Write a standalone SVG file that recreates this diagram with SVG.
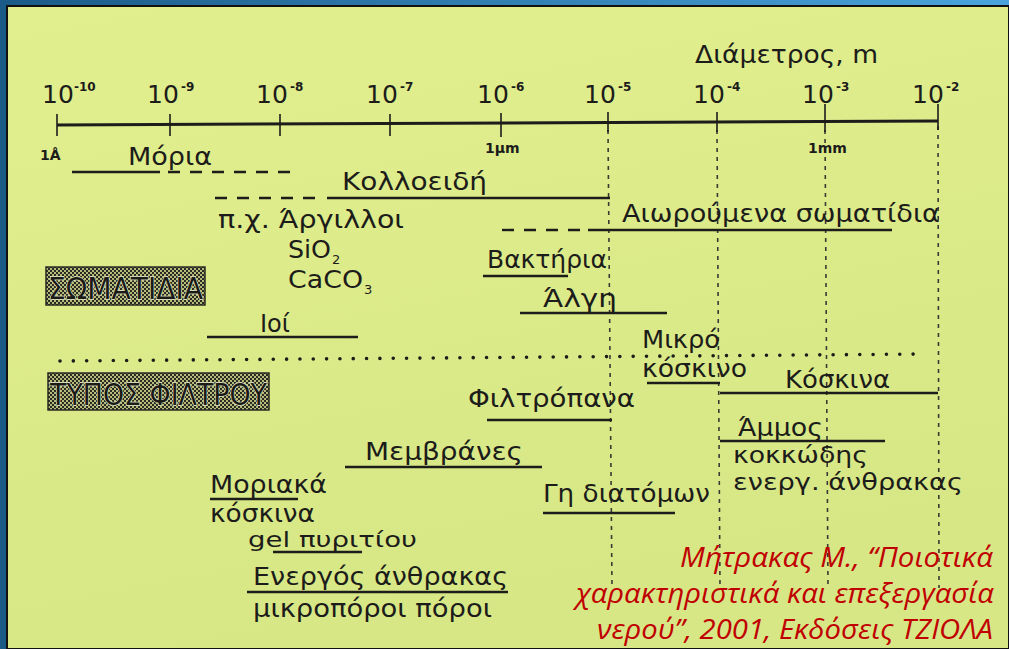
<svg xmlns="http://www.w3.org/2000/svg" width="1009" height="649" viewBox="0 0 1009 649">
<defs>
<linearGradient id="frame" x1="0" y1="0" x2="1" y2="0">
<stop offset="0" stop-color="#1a5a88"/>
<stop offset="1" stop-color="#4aa4dc"/>
</linearGradient>
<linearGradient id="panel" x1="0" y1="0" x2="0.3" y2="1">
<stop offset="0" stop-color="#e2ef8e"/>
<stop offset="1" stop-color="#d7e786"/>
</linearGradient>
<pattern id="halftone" width="4" height="4" patternUnits="userSpaceOnUse">
<rect width="4" height="4" fill="#b4bb7a"/>
<rect width="2" height="2" fill="#2a2a22"/>
<rect x="2" y="2" width="2" height="2" fill="#2a2a22"/>
</pattern>
<style>
.t{font-family:"DejaVu Sans","Liberation Sans",sans-serif;font-size:25px;fill:#1c1c1a}
.sup{font-family:"DejaVu Sans","Liberation Sans",sans-serif;font-size:12px;fill:#1c1c1a;font-weight:bold}
.sm{font-family:"DejaVu Sans","Liberation Sans",sans-serif;font-size:14px;fill:#1c1c1a;font-weight:bold}
.box{font-family:"DejaVu Sans","Liberation Sans",sans-serif;font-size:30px;fill:#1a1a16;stroke:#e6eac8;stroke-width:1.3px;paint-order:stroke}
.ln{stroke:#1c1c1a;stroke-width:2.4;fill:none}
.dsh{stroke:#1c1c1a;stroke-width:2.4;fill:none;stroke-dasharray:12 10}
.grid{stroke:#3a3a34;stroke-width:1.6;fill:none;stroke-dasharray:4 5}
.tick{stroke:#1c1c1a;stroke-width:1.6}
.cite{font-family:"Open Sans","Noto Sans",sans-serif;font-style:italic;font-size:28px;fill:#c00000}
</style>
</defs>
<rect x="0" y="0" width="1009" height="649" fill="url(#frame)"/>
<rect x="0" y="6" width="7" height="643" fill="#195a86"/>
<rect x="7" y="6" width="1002" height="643" fill="url(#panel)" stroke="#111" stroke-width="2"/>

<g id="connectors">
<line class="grid" x1="608" y1="130" x2="612" y2="588"/>
<line class="grid" x1="717" y1="130" x2="720" y2="588"/>
<line class="grid" x1="825" y1="130" x2="828" y2="588"/>
<line class="grid" x1="938" y1="126" x2="939" y2="588"/>
<line x1="60" y1="361" x2="926" y2="354" stroke="#1c1c1a" stroke-width="3.6" stroke-linecap="round" stroke-dasharray="0 13.33"/>
</g>

<g id="axis">
<line x1="57" y1="125" x2="938" y2="121" stroke="#1c1c1a" stroke-width="3"/>
<line class="tick" x1="57" y1="114" x2="57" y2="136"/>
<line class="tick" x1="170" y1="114" x2="170" y2="136"/>
<line class="tick" x1="280" y1="114" x2="280" y2="136"/>
<line class="tick" x1="390" y1="114" x2="390" y2="136"/>
<line class="tick" x1="501" y1="113" x2="501" y2="137"/>
<line class="tick" x1="608" y1="112" x2="608" y2="132"/>
<line class="tick" x1="717" y1="112" x2="717" y2="132"/>
<line class="tick" x1="825" y1="104" x2="825" y2="132"/>
<line class="tick" x1="938" y1="104" x2="938" y2="130"/>
<text class="t" x="695" y="63" textLength="183" lengthAdjust="spacingAndGlyphs">Διάμετρος, m</text>
<text class="t" x="42" y="103">10</text><text class="sup" x="74" y="91">-10</text>
<text class="t" x="147" y="103">10</text><text class="sup" x="181" y="91">-9</text>
<text class="t" x="256" y="103">10</text><text class="sup" x="290" y="91">-8</text>
<text class="t" x="366" y="103">10</text><text class="sup" x="400" y="91">-7</text>
<text class="t" x="477" y="103">10</text><text class="sup" x="511" y="91">-6</text>
<text class="t" x="584" y="103">10</text><text class="sup" x="618" y="91">-5</text>
<text class="t" x="693" y="103">10</text><text class="sup" x="727" y="91">-4</text>
<text class="t" x="802" y="103">10</text><text class="sup" x="836" y="91">-3</text>
<text class="t" x="912" y="103">10</text><text class="sup" x="946" y="91">-2</text>
<text class="sm" x="40" y="160">1Å</text>
<text class="sm" x="485" y="153">1µm</text>
<text class="sm" x="808" y="153">1mm</text>
</g>

<g id="moria">
<text class="t" x="128" y="165" textLength="84" lengthAdjust="spacingAndGlyphs">Μόρια</text>
<line class="ln" x1="72" y1="172" x2="160" y2="172"/>
<line class="dsh" x1="168" y1="172" x2="294" y2="172"/>
</g>
<g id="kolloeidi">
<text class="t" x="342" y="190" textLength="145" lengthAdjust="spacingAndGlyphs">Κολλοειδή</text>
<line class="dsh" x1="215" y1="198" x2="320" y2="198"/>
<line class="ln" x1="327" y1="198" x2="610" y2="198"/>
</g>
<g id="argilloi">
<text class="t" x="218" y="228" textLength="186" lengthAdjust="spacingAndGlyphs">π.χ. Άργιλλοι</text>
<text class="t" x="288" y="258" textLength="43" lengthAdjust="spacingAndGlyphs">SiO</text><text class="t" x="332" y="264" style="font-size:13px">2</text>
<text class="t" x="288" y="288" textLength="75" lengthAdjust="spacingAndGlyphs">CaCO</text><text class="t" x="364" y="294" style="font-size:13px">3</text>
</g>
<g id="somatidia">
<rect x="46" y="267" width="159" height="38" fill="url(#halftone)" stroke="#2a2a22" stroke-width="1.5"/>
<text class="box" x="48" y="299" textLength="155" lengthAdjust="spacingAndGlyphs">ΣΩΜΑΤΙΔΙΑ</text>
</g>
<g id="ioi">
<text class="t" x="260" y="332" textLength="30" lengthAdjust="spacingAndGlyphs">Ιοί</text>
<line class="ln" x1="207" y1="337" x2="358" y2="337"/>
</g>
<g id="aiwroumena">
<text class="t" x="622" y="222" textLength="318" lengthAdjust="spacingAndGlyphs">Αιωρούμενα σωματίδια</text>
<line class="dsh" x1="502" y1="230" x2="582" y2="230"/>
<line class="ln" x1="588" y1="230" x2="892" y2="230"/>
</g>
<g id="baktiria">
<text class="t" x="487" y="268" textLength="120" lengthAdjust="spacingAndGlyphs">Βακτήρια</text>
<line class="ln" x1="483" y1="276" x2="568" y2="276"/>
</g>
<g id="algi">
<text class="t" x="543" y="307" textLength="74" lengthAdjust="spacingAndGlyphs">Άλγη</text>
<line class="ln" x1="520" y1="313" x2="667" y2="313"/>
</g>
<g id="typos-filtrou">
<rect x="48" y="373" width="221" height="37" fill="url(#halftone)" stroke="#2a2a22" stroke-width="1.5"/>
<text class="box" x="50" y="405" textLength="217" lengthAdjust="spacingAndGlyphs">ΤΥΠΟΣ ΦΙΛΤΡΟΥ</text>
</g>
<g id="mikro-koskino">
<text class="t" x="642" y="348" textLength="78" lengthAdjust="spacingAndGlyphs">Μικρό</text>
<text class="t" x="642" y="377" textLength="105" lengthAdjust="spacingAndGlyphs">κόσκινο</text>
<line class="ln" x1="647" y1="383" x2="720" y2="383"/>
</g>
<g id="koskina">
<text class="t" x="785" y="388" textLength="105" lengthAdjust="spacingAndGlyphs">Κόσκινα</text>
<line class="ln" x1="720" y1="393" x2="938" y2="393"/>
</g>
<g id="filtropana">
<text class="t" x="468" y="407" textLength="167" lengthAdjust="spacingAndGlyphs">Φιλτρόπανα</text>
<line class="ln" x1="487" y1="420" x2="612" y2="420"/>
</g>
<g id="membranes">
<text class="t" x="365" y="460" textLength="158" lengthAdjust="spacingAndGlyphs">Μεμβράνες</text>
<line class="ln" x1="345" y1="467" x2="542" y2="467"/>
</g>
<g id="gi-diatomwn">
<text class="t" x="543" y="502" textLength="167" lengthAdjust="spacingAndGlyphs">Γη διατόμων</text>
<line class="ln" x1="543" y1="513" x2="675" y2="513"/>
</g>
<g id="ammos">
<text class="t" x="738" y="436" textLength="85" lengthAdjust="spacingAndGlyphs">Άμμος</text>
<line class="ln" x1="720" y1="441" x2="885" y2="441"/>
<text class="t" x="733" y="463" style="font-size:23px" textLength="135" lengthAdjust="spacingAndGlyphs">κοκκώδης</text>
<text class="t" x="733" y="490" style="font-size:23px" textLength="230" lengthAdjust="spacingAndGlyphs">ενεργ. άνθρακας</text>
</g>
<g id="moriaka-koskina">
<text class="t" x="210" y="493" textLength="117" lengthAdjust="spacingAndGlyphs">Μοριακά</text>
<line class="ln" x1="210" y1="499" x2="298" y2="499"/>
<text class="t" x="210" y="522" textLength="105" lengthAdjust="spacingAndGlyphs">κόσκινα</text>
</g>
<g id="gel">
<text class="t" x="248" y="547" style="font-size:22px" textLength="169" lengthAdjust="spacingAndGlyphs">gel πυριτίου</text>
<line class="ln" x1="273" y1="552" x2="362" y2="552"/>
</g>
<g id="energos-anthrakas">
<text class="t" x="253" y="585" textLength="255" lengthAdjust="spacingAndGlyphs">Ενεργός άνθρακας</text>
<line class="ln" x1="247" y1="592" x2="508" y2="592"/>
<text class="t" x="253" y="617" textLength="239" lengthAdjust="spacingAndGlyphs">μικροπόροι πόροι</text>
</g>
<g id="citation">
<text class="cite" x="680" y="567" textLength="313" lengthAdjust="spacingAndGlyphs">Μήτρακας Μ., “Ποιοτικά</text>
<text class="cite" x="576" y="603" textLength="418" lengthAdjust="spacingAndGlyphs">χαρακτηριστικά και επεξεργασία</text>
<text class="cite" x="597" y="639" textLength="396" lengthAdjust="spacingAndGlyphs">νερού”, 2001, Εκδόσεις ΤΖΙΟΛΑ</text>
</g>
</svg>
